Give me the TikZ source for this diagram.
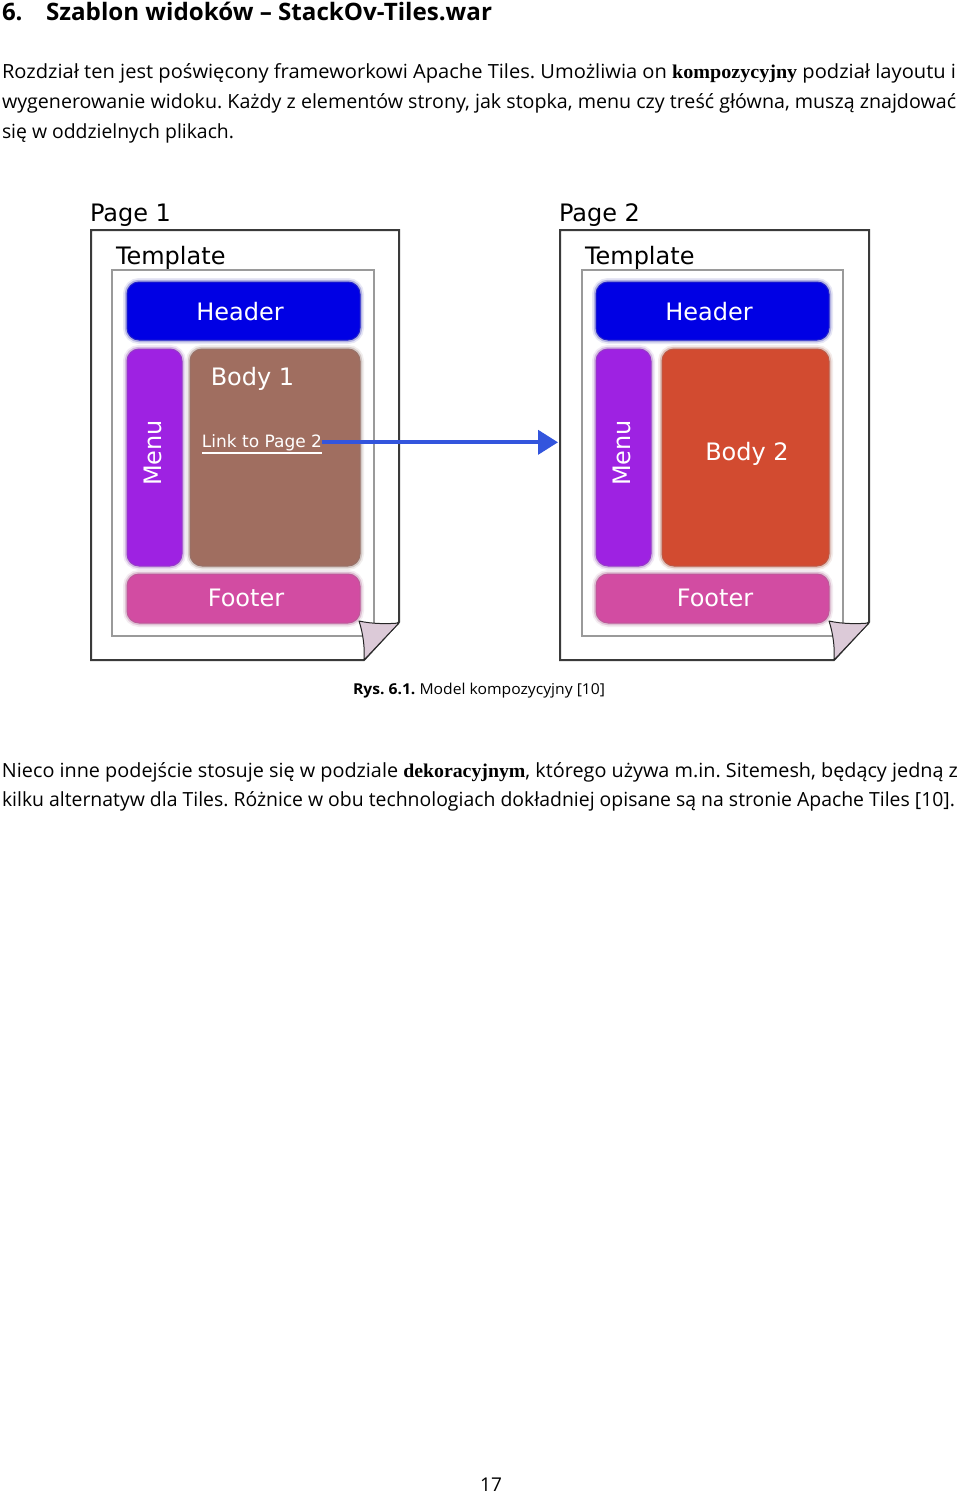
\documentclass[tikz,border=0pt]{standalone}
\usepackage{graphicx}
\usepackage{fontspec}
\setmainfont{Open Sans}
\newfontfamily\djfont{DejaVu Sans}
\newfontfamily\serifbfont{Liberation Serif}
\usetikzlibrary{arrows.meta}
\frenchspacing
\definecolor{hdrblue}{HTML}{0000E4}
\definecolor{menupurple}{HTML}{9E22E2}
\definecolor{bodybrown}{HTML}{A06E60}
\definecolor{footpink}{HTML}{D24CA2}
\definecolor{bodyred}{HTML}{D24B30}
\definecolor{flapcol}{HTML}{DCCAD8}
\definecolor{arrblue}{HTML}{3355DD}
\definecolor{framegray}{HTML}{3A3A3A}
\definecolor{tmplgray}{HTML}{9A9A9A}
\newcommand{\fitw}[2]{\resizebox{#1}{\height}{#2}}
\tikzset{
  txt/.style={inner sep=0pt, outer sep=0pt, text=black, font=\fontsize{19.5}{23}\selectfont},
  blk/.style={rounded corners=12pt, inner sep=0pt, outer sep=0pt, fill=#1, draw=#1!75!gray, line width=1pt,
    preaction={draw=#1!50!gray, line width=8pt, opacity=0.12},
    preaction={draw=#1!55!gray, line width=4.5pt, opacity=0.3},
    text=white, font=\djfont\fontsize{24}{28}\selectfont},
  plabel/.style={inner sep=0pt, outer sep=0pt, anchor=base west, text=black, font=\djfont\fontsize{24}{28}\selectfont},
  wlabel/.style={inner sep=0pt, outer sep=0pt, anchor=base, text=white, font=\djfont\fontsize{24}{28}\selectfont},
  pageframe/.style={draw=framegray, line width=2pt, fill=white, line join=miter},
  tmplframe/.style={draw=tmplgray, line width=1.6pt},
  flapshape/.style={fill=flapcol, draw=black!85, line width=1pt, line join=round},
  linkarrow/.style={draw=arrblue, line width=4pt, -{Triangle[length=20pt,width=24pt]}}
}
\begin{document}
\begin{tikzpicture}[x=1pt,y=-1pt]
\useasboundingbox (0,0) rectangle (960,1493);
\fill[white] (0,0) rectangle (960,1493);

% heading
\node[txt, anchor=base west, font=\bfseries\fontsize{24}{28}\selectfont] (hnum) at (2,21) {6.};
\node[txt, anchor=base west, font=\bfseries\fontsize{24}{28}\selectfont] (htitle) at (46,21) {\fitw{446pt}{Szablon widoków – StackOv-Tiles.war}};

% first paragraph
\node[txt, anchor=base west] (p1a) at (2,79) {\fitw{954pt}{Rozdział ten jest poświęcony frameworkowi Apache Tiles. Umożliwia on {\serifbfont\bfseries kompozycyjny} podział layoutu i}};
\node[txt, anchor=base west] (p1b) at (2,109) {\fitw{954pt}{wygenerowanie widoku. Każdy z elementów strony, jak stopka, menu czy treść główna, muszą znajdować}};
\node[txt, anchor=base west] (p1c) at (2,139) {\fitw{232pt}{się w oddzielnych plikach.}};

% ---------- Page 1 ----------
\node[plabel] (page1lbl) at (90,221) {Page 1};
\draw[pageframe] (91,230) -- (399,230) -- (399,622) -- (364,660) -- (91,660) -- cycle;
\node[plabel] (tmpl1lbl) at (116,264) {Template};
\draw[tmplframe] (112,270) rectangle (374,636);
\node[blk=hdrblue, minimum width=233pt, minimum height=58pt] (header1) at (243.5,311) {};
\node[blk=menupurple, minimum width=55pt, minimum height=217pt] (menu1) at (154.5,457.5) {};
\node[blk=bodybrown, minimum width=170pt, minimum height=217pt] (body1) at (275,457.5) {};
\node[blk=footpink, minimum width=233pt, minimum height=49pt] (footer1) at (243.5,598.5) {};
\node[wlabel] (header1lbl) at (240,320) {Header};
\node[wlabel, rotate=90] (menu1lbl) at (161,453) {Menu};
\node[wlabel] (body1lbl) at (252.5,385) {Body 1};
\node[wlabel] (footer1lbl) at (246,606) {Footer};
\node[inner sep=0pt, outer sep=0pt, anchor=base, text=white, font=\djfont\fontsize{17}{20}\selectfont] (link) at (262,447) {Link to Page 2};
\draw[white, line width=1.2pt] ([yshift=-6pt]link.base west) -- ([yshift=-6pt]link.base east);
\draw[flapshape] (359,621) .. controls (372,624) and (388,624) .. (399,623) -- (364,660) .. controls (365,648) and (363,633) .. (359,621) -- cycle;

% ---------- Page 2 ----------
\begin{scope}[shift={(469,0)}]
\node[plabel] (page2lbl) at (90,221) {Page 2};
\draw[pageframe] (91,230) -- (400,230) -- (400,622) -- (365,660) -- (91,660) -- cycle;
\node[plabel] (tmpl2lbl) at (116,264) {Template};
\draw[tmplframe] (113,270) rectangle (374,636);
\coordinate (p2left) at (91,441);
\node[blk=hdrblue, minimum width=233pt, minimum height=58pt] (header2) at (243.5,311) {};
\node[blk=menupurple, minimum width=55pt, minimum height=217pt] (menu2) at (154.5,457.5) {};
\node[blk=bodyred, minimum width=167pt, minimum height=217pt] (body2) at (276.5,457.5) {};
\node[blk=footpink, minimum width=233pt, minimum height=49pt] (footer2) at (243.5,598.5) {};
\node[wlabel] (header2lbl) at (240,320) {Header};
\node[wlabel, rotate=90] (menu2lbl) at (161,453) {Menu};
\node[wlabel] (body2lbl) at (278,460) {Body 2};
\node[wlabel] (footer2lbl) at (246,606) {Footer};
\draw[flapshape] (360,621) .. controls (373,624) and (389,624) .. (400,623) -- (365,660) .. controls (366,648) and (364,633) .. (360,621) -- cycle;
\end{scope}

% link arrow
\draw[linkarrow, shorten >=2pt] (link.east) -- (link.east -| p2left);

% caption
\node[txt, anchor=base west, font=\fontsize{15}{18}\selectfont] (caption) at (353,694) {\fitw{252pt}{\textbf{Rys. 6.1.} Model kompozycyjny [10]}};

% second paragraph
\node[txt, anchor=base west] (p2a) at (2,777) {\fitw{956pt}{Nieco inne podejście stosuje się w podziale {\serifbfont\bfseries dekoracyjnym}, którego używa m.in. Sitemesh, będący jedną z}};
\node[txt, anchor=base west] (p2b) at (2,806) {\fitw{953pt}{kilku alternatyw dla Tiles. Różnice w obu technologiach dokładniej opisane są na stronie Apache Tiles [10].}};

% page number
\node[txt, anchor=base, font=\fontsize{19}{22}\selectfont] (pagenum) at (491,1491) {17};
\end{tikzpicture}
\end{document}
